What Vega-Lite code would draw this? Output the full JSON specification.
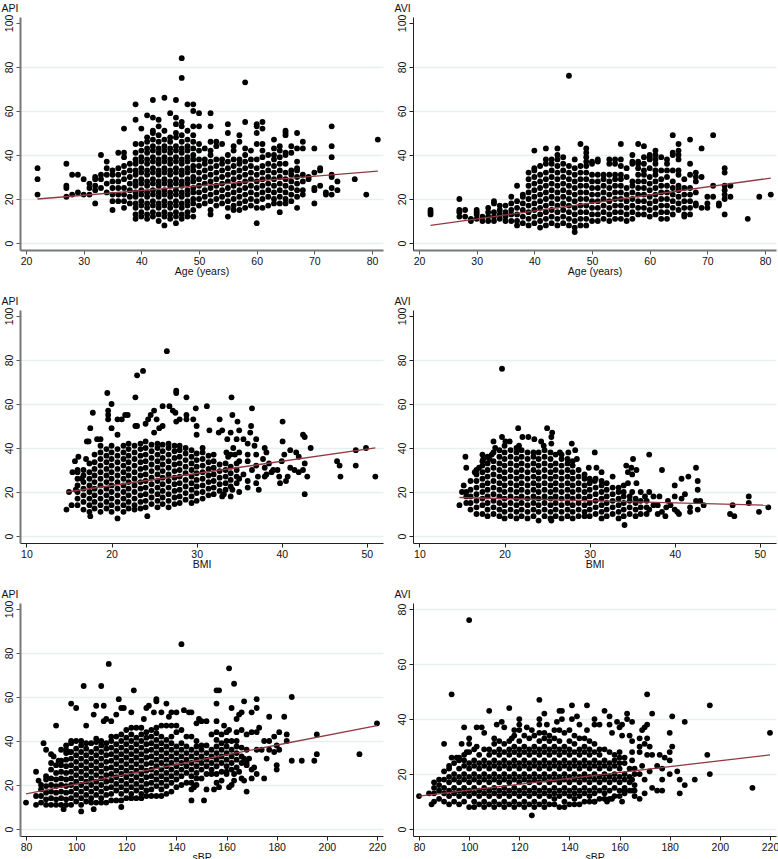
{"$schema":"https://vega.github.io/schema/vega-lite/v6.json","padding":{"left":1,"top":3,"right":0,"bottom":0},"background":"white","columns":2,"bounds":"flush","spacing":{"row":60,"column":30},
"config":{"view":{"stroke":null},"font":"Liberation Sans","axis":{"labelFont":"Liberation Sans","titleFont":"Liberation Sans","labelFontSize":10.5,"titleFontSize":10.5,"titleFontWeight":"normal","labelColor":"#111","titleColor":"#111","tickSize":4,"tickColor":"#222","domainColor":"#222","labelPadding":2,"titlePadding":0}},
"datasets":{
"apiAgeFit":[{"x":22,"y":20},{"x":81,"y":32.7}],"aviAgeFit":[{"x":22,"y":8},{"x":81,"y":29.5}],"apiBmiFit":[{"x":14.7,"y":20},{"x":51,"y":40}],"aviBmiFit":[{"x":14.7,"y":17.5},{"x":51,"y":14}],"apiSbpFit":[{"x":80,"y":16},{"x":220,"y":47}],"aviSbpFit":[{"x":80,"y":12},{"x":220,"y":27}],
"apiAge":[{"x":22,"y":22},{"x":22,"y":29},{"x":22,"y":34},{"x":27,"y":21},{"x":27,"y":25},{"x":27,"y":26},{"x":27,"y":36},{"x":28,"y":22},{"x":28,"y":31},{"x":29,"y":23},{"x":29,"y":31},{"x":30,"y":22},{"x":30,"y":29},{"x":31,"y":22},{"x":31,"y":25},{"x":31,"y":27},{"x":32,"y":18},{"x":32,"y":24},{"x":32,"y":26},{"x":32,"y":29},{"x":32,"y":30},{"x":33,"y":25},{"x":33,"y":29},{"x":33,"y":31},{"x":33,"y":40},{"x":34,"y":23},{"x":34,"y":27},{"x":34,"y":31},{"x":34,"y":34},{"x":34,"y":37},{"x":35,"y":15},{"x":35,"y":19},{"x":35,"y":22},{"x":35,"y":25},{"x":35,"y":28},{"x":35,"y":31},{"x":35,"y":33},{"x":36,"y":19},{"x":36,"y":22},{"x":36,"y":25},{"x":36,"y":28},{"x":36,"y":31},{"x":36,"y":34},{"x":36,"y":41},{"x":37,"y":16},{"x":37,"y":19},{"x":37,"y":22},{"x":37,"y":25},{"x":37,"y":29},{"x":37,"y":32},{"x":37,"y":35},{"x":37,"y":39},{"x":37,"y":41},{"x":37,"y":52},{"x":38,"y":18},{"x":38,"y":21},{"x":38,"y":24},{"x":38,"y":27},{"x":38,"y":30},{"x":38,"y":33},{"x":38,"y":36},
{"x":39,"y":11},{"x":39,"y":13},{"x":39,"y":16},{"x":39,"y":18},{"x":39,"y":21},{"x":39,"y":23},{"x":39,"y":26},{"x":39,"y":28},{"x":39,"y":31},{"x":39,"y":33},{"x":39,"y":36},{"x":39,"y":38},{"x":39,"y":41},{"x":39,"y":45},{"x":39,"y":56},{"x":39,"y":63},
{"x":40,"y":12},{"x":40,"y":14},{"x":40,"y":17},{"x":40,"y":19},{"x":40,"y":22},{"x":40,"y":24},{"x":40,"y":27},{"x":40,"y":29},{"x":40,"y":32},{"x":40,"y":34},{"x":40,"y":37},{"x":40,"y":39},{"x":40,"y":42},{"x":40,"y":45},{"x":40,"y":52},
{"x":41,"y":11},{"x":41,"y":13},{"x":41,"y":16},{"x":41,"y":18},{"x":41,"y":21},{"x":41,"y":23},{"x":41,"y":26},{"x":41,"y":28},{"x":41,"y":31},{"x":41,"y":33},{"x":41,"y":36},{"x":41,"y":38},{"x":41,"y":41},{"x":41,"y":43},{"x":41,"y":46},{"x":41,"y":48},{"x":41,"y":58},
{"x":42,"y":12},{"x":42,"y":14},{"x":42,"y":17},{"x":42,"y":19},{"x":42,"y":22},{"x":42,"y":24},{"x":42,"y":27},{"x":42,"y":29},{"x":42,"y":32},{"x":42,"y":34},{"x":42,"y":37},{"x":42,"y":39},{"x":42,"y":42},{"x":42,"y":44},{"x":42,"y":47},{"x":42,"y":50},{"x":42,"y":51},{"x":42,"y":57},{"x":42,"y":65},
{"x":43,"y":10},{"x":43,"y":13},{"x":43,"y":16},{"x":43,"y":18},{"x":43,"y":21},{"x":43,"y":23},{"x":43,"y":26},{"x":43,"y":28},{"x":43,"y":31},{"x":43,"y":33},{"x":43,"y":36},{"x":43,"y":38},{"x":43,"y":41},{"x":43,"y":43},{"x":43,"y":46},{"x":43,"y":49},{"x":43,"y":53},{"x":43,"y":56},
{"x":44,"y":8},{"x":44,"y":12},{"x":44,"y":14},{"x":44,"y":17},{"x":44,"y":19},{"x":44,"y":22},{"x":44,"y":24},{"x":44,"y":27},{"x":44,"y":29},{"x":44,"y":32},{"x":44,"y":34},{"x":44,"y":37},{"x":44,"y":39},{"x":44,"y":42},{"x":44,"y":44},{"x":44,"y":47},{"x":44,"y":51},{"x":44,"y":66},
{"x":45,"y":11},{"x":45,"y":13},{"x":45,"y":16},{"x":45,"y":18},{"x":45,"y":21},{"x":45,"y":23},{"x":45,"y":26},{"x":45,"y":28},{"x":45,"y":31},{"x":45,"y":33},{"x":45,"y":36},{"x":45,"y":38},{"x":45,"y":41},{"x":45,"y":43},{"x":45,"y":46},{"x":45,"y":48},{"x":45,"y":59},
{"x":46,"y":9},{"x":46,"y":12},{"x":46,"y":14},{"x":46,"y":17},{"x":46,"y":19},{"x":46,"y":22},{"x":46,"y":24},{"x":46,"y":27},{"x":46,"y":29},{"x":46,"y":32},{"x":46,"y":34},{"x":46,"y":37},{"x":46,"y":39},{"x":46,"y":42},{"x":46,"y":44},{"x":46,"y":48},{"x":46,"y":50},{"x":46,"y":54},{"x":46,"y":57},{"x":46,"y":65},
{"x":47,"y":11},{"x":47,"y":13},{"x":47,"y":16},{"x":47,"y":18},{"x":47,"y":21},{"x":47,"y":23},{"x":47,"y":26},{"x":47,"y":28},{"x":47,"y":31},{"x":47,"y":33},{"x":47,"y":36},{"x":47,"y":38},{"x":47,"y":41},{"x":47,"y":43},{"x":47,"y":46},{"x":47,"y":49},{"x":47,"y":53},{"x":47,"y":55},{"x":47,"y":75},{"x":47,"y":84},
{"x":48,"y":12},{"x":48,"y":14},{"x":48,"y":17},{"x":48,"y":19},{"x":48,"y":22},{"x":48,"y":24},{"x":48,"y":27},{"x":48,"y":29},{"x":48,"y":32},{"x":48,"y":34},{"x":48,"y":37},{"x":48,"y":39},{"x":48,"y":42},{"x":48,"y":44},{"x":48,"y":47},{"x":48,"y":51},{"x":48,"y":63},
{"x":49,"y":12},{"x":49,"y":15},{"x":49,"y":18},{"x":49,"y":20},{"x":49,"y":23},{"x":49,"y":25},{"x":49,"y":28},{"x":49,"y":30},{"x":49,"y":33},{"x":49,"y":35},{"x":49,"y":38},{"x":49,"y":40},{"x":49,"y":43},{"x":49,"y":46},{"x":49,"y":49},{"x":49,"y":53},{"x":49,"y":60},{"x":49,"y":63},
{"x":50,"y":17},{"x":50,"y":20},{"x":50,"y":23},{"x":50,"y":26},{"x":50,"y":29},{"x":50,"y":32},{"x":50,"y":35},{"x":50,"y":38},{"x":50,"y":42},{"x":50,"y":45},{"x":50,"y":53},{"x":50,"y":59},
{"x":51,"y":18},{"x":51,"y":21},{"x":51,"y":24},{"x":51,"y":27},{"x":51,"y":30},{"x":51,"y":33},{"x":51,"y":36},{"x":51,"y":38},{"x":51,"y":43},
{"x":52,"y":13},{"x":52,"y":15},{"x":52,"y":19},{"x":52,"y":22},{"x":52,"y":25},{"x":52,"y":28},{"x":52,"y":31},{"x":52,"y":34},{"x":52,"y":37},{"x":52,"y":40},{"x":52,"y":42},{"x":52,"y":46},{"x":52,"y":53},{"x":52,"y":59},
{"x":53,"y":17},{"x":53,"y":20},{"x":53,"y":23},{"x":53,"y":26},{"x":53,"y":29},{"x":53,"y":32},{"x":53,"y":35},{"x":53,"y":38},{"x":53,"y":44},{"x":53,"y":46},
{"x":54,"y":18},{"x":54,"y":21},{"x":54,"y":24},{"x":54,"y":27},{"x":54,"y":30},{"x":54,"y":33},{"x":54,"y":36},{"x":54,"y":38},{"x":54,"y":45},
{"x":55,"y":12},{"x":55,"y":16},{"x":55,"y":19},{"x":55,"y":22},{"x":55,"y":25},{"x":55,"y":28},{"x":55,"y":31},{"x":55,"y":34},{"x":55,"y":37},{"x":55,"y":40},{"x":55,"y":50},{"x":55,"y":54},
{"x":56,"y":15},{"x":56,"y":17},{"x":56,"y":20},{"x":56,"y":23},{"x":56,"y":26},{"x":56,"y":29},{"x":56,"y":32},{"x":56,"y":35},{"x":56,"y":38},{"x":56,"y":42},{"x":56,"y":44},
{"x":57,"y":15},{"x":57,"y":18},{"x":57,"y":21},{"x":57,"y":24},{"x":57,"y":27},{"x":57,"y":30},{"x":57,"y":33},{"x":57,"y":36},{"x":57,"y":38},{"x":57,"y":46},{"x":57,"y":49},
{"x":58,"y":16},{"x":58,"y":19},{"x":58,"y":22},{"x":58,"y":25},{"x":58,"y":28},{"x":58,"y":31},{"x":58,"y":34},{"x":58,"y":37},{"x":58,"y":40},{"x":58,"y":43},{"x":58,"y":55},{"x":58,"y":73},
{"x":59,"y":17},{"x":59,"y":20},{"x":59,"y":23},{"x":59,"y":26},{"x":59,"y":29},{"x":59,"y":32},{"x":59,"y":35},{"x":59,"y":38},{"x":59,"y":42},
{"x":60,"y":9},{"x":60,"y":16},{"x":60,"y":19},{"x":60,"y":22},{"x":60,"y":25},{"x":60,"y":28},{"x":60,"y":31},{"x":60,"y":34},{"x":60,"y":38},{"x":60,"y":45},{"x":60,"y":50},{"x":60,"y":53},{"x":60,"y":54},
{"x":61,"y":16},{"x":61,"y":20},{"x":61,"y":23},{"x":61,"y":26},{"x":61,"y":29},{"x":61,"y":32},{"x":61,"y":35},{"x":61,"y":39},{"x":61,"y":42},{"x":61,"y":45},{"x":61,"y":52},{"x":61,"y":55},
{"x":62,"y":17},{"x":62,"y":21},{"x":62,"y":24},{"x":62,"y":27},{"x":62,"y":30},{"x":62,"y":33},{"x":62,"y":36},{"x":62,"y":40},
{"x":63,"y":18},{"x":63,"y":20},{"x":63,"y":23},{"x":63,"y":26},{"x":63,"y":29},{"x":63,"y":32},{"x":63,"y":35},{"x":63,"y":38},{"x":63,"y":40},{"x":63,"y":43},{"x":63,"y":47},
{"x":64,"y":14},{"x":64,"y":18},{"x":64,"y":21},{"x":64,"y":24},{"x":64,"y":27},{"x":64,"y":30},{"x":64,"y":33},{"x":64,"y":36},{"x":64,"y":39},{"x":64,"y":42},{"x":64,"y":44},
{"x":65,"y":18},{"x":65,"y":20},{"x":65,"y":23},{"x":65,"y":26},{"x":65,"y":29},{"x":65,"y":32},{"x":65,"y":36},{"x":65,"y":40},{"x":65,"y":41},{"x":65,"y":49},{"x":65,"y":50},{"x":65,"y":51},
{"x":66,"y":19},{"x":66,"y":22},{"x":66,"y":25},{"x":66,"y":28},{"x":66,"y":31},{"x":66,"y":33},{"x":66,"y":41},{"x":66,"y":44},
{"x":67,"y":16},{"x":67,"y":21},{"x":67,"y":24},{"x":67,"y":27},{"x":67,"y":30},{"x":67,"y":33},{"x":67,"y":34},{"x":67,"y":37},{"x":67,"y":43},{"x":67,"y":50},
{"x":68,"y":22},{"x":68,"y":24},{"x":68,"y":28},{"x":68,"y":31},{"x":68,"y":43},{"x":68,"y":46},{"x":69,"y":29},{"x":69,"y":30},{"x":70,"y":18},{"x":70,"y":24},{"x":70,"y":25},{"x":70,"y":32},{"x":70,"y":43},{"x":71,"y":26},{"x":71,"y":33},{"x":71,"y":34},{"x":72,"y":22},{"x":72,"y":23},{"x":73,"y":22},{"x":73,"y":25},{"x":73,"y":30},{"x":73,"y":31},{"x":73,"y":39},{"x":73,"y":44},{"x":73,"y":53},{"x":74,"y":24},{"x":74,"y":28},{"x":77,"y":29},{"x":79,"y":22},{"x":81,"y":47}],
"aviAge":[{"x":22,"y":13},{"x":22,"y":14},{"x":22,"y":15},{"x":27,"y":12},{"x":27,"y":14},{"x":27,"y":15},{"x":27,"y":20},{"x":28,"y":12},{"x":28,"y":15},{"x":29,"y":10},{"x":29,"y":11},{"x":30,"y":11},{"x":30,"y":13},{"x":30,"y":14},{"x":30,"y":15},{"x":31,"y":10},{"x":31,"y":12},{"x":32,"y":10},{"x":32,"y":12},{"x":32,"y":14},{"x":32,"y":16},{"x":33,"y":10},{"x":33,"y":12},{"x":33,"y":14},{"x":33,"y":18},{"x":33,"y":19},{"x":34,"y":11},{"x":34,"y":13},{"x":34,"y":15},{"x":34,"y":17},{"x":35,"y":10},{"x":35,"y":12},{"x":35,"y":14},{"x":35,"y":17},{"x":36,"y":10},{"x":36,"y":13},{"x":36,"y":15},{"x":36,"y":18},{"x":36,"y":21},{"x":37,"y":8},{"x":37,"y":10},{"x":37,"y":13},{"x":37,"y":16},{"x":37,"y":19},{"x":37,"y":26},{"x":38,"y":9},{"x":38,"y":12},{"x":38,"y":15},{"x":38,"y":18},{"x":38,"y":21},{"x":38,"y":22},
{"x":39,"y":8},{"x":39,"y":11},{"x":39,"y":14},{"x":39,"y":17},{"x":39,"y":20},{"x":39,"y":23},{"x":39,"y":26},{"x":39,"y":29},{"x":39,"y":32},
{"x":40,"y":9},{"x":40,"y":12},{"x":40,"y":15},{"x":40,"y":18},{"x":40,"y":21},{"x":40,"y":24},{"x":40,"y":27},{"x":40,"y":30},{"x":40,"y":33},{"x":40,"y":34},{"x":40,"y":42},
{"x":41,"y":7},{"x":41,"y":10},{"x":41,"y":13},{"x":41,"y":16},{"x":41,"y":19},{"x":41,"y":22},{"x":41,"y":25},{"x":41,"y":28},{"x":41,"y":31},{"x":41,"y":35},
{"x":42,"y":8},{"x":42,"y":11},{"x":42,"y":14},{"x":42,"y":17},{"x":42,"y":20},{"x":42,"y":23},{"x":42,"y":26},{"x":42,"y":29},{"x":42,"y":32},{"x":42,"y":36},{"x":42,"y":38},{"x":42,"y":43},
{"x":43,"y":9},{"x":43,"y":12},{"x":43,"y":15},{"x":43,"y":18},{"x":43,"y":21},{"x":43,"y":24},{"x":43,"y":27},{"x":43,"y":30},{"x":43,"y":33},{"x":43,"y":36},{"x":43,"y":38},
{"x":44,"y":8},{"x":44,"y":11},{"x":44,"y":14},{"x":44,"y":17},{"x":44,"y":20},{"x":44,"y":23},{"x":44,"y":26},{"x":44,"y":29},{"x":44,"y":32},{"x":44,"y":35},{"x":44,"y":38},{"x":44,"y":40},{"x":44,"y":43},
{"x":45,"y":9},{"x":45,"y":12},{"x":45,"y":15},{"x":45,"y":18},{"x":45,"y":21},{"x":45,"y":24},{"x":45,"y":27},{"x":45,"y":30},{"x":45,"y":33},{"x":45,"y":36},{"x":45,"y":39},
{"x":46,"y":8},{"x":46,"y":11},{"x":46,"y":14},{"x":46,"y":17},{"x":46,"y":20},{"x":46,"y":23},{"x":46,"y":26},{"x":46,"y":29},{"x":46,"y":32},{"x":46,"y":35},{"x":46,"y":76},
{"x":47,"y":5},{"x":47,"y":7},{"x":47,"y":10},{"x":47,"y":13},{"x":47,"y":16},{"x":47,"y":19},{"x":47,"y":22},{"x":47,"y":25},{"x":47,"y":28},{"x":47,"y":31},{"x":47,"y":34},{"x":47,"y":38},
{"x":48,"y":8},{"x":48,"y":11},{"x":48,"y":14},{"x":48,"y":17},{"x":48,"y":20},{"x":48,"y":23},{"x":48,"y":26},{"x":48,"y":29},{"x":48,"y":32},{"x":48,"y":35},{"x":48,"y":45},
{"x":49,"y":8},{"x":49,"y":11},{"x":49,"y":14},{"x":49,"y":17},{"x":49,"y":20},{"x":49,"y":23},{"x":49,"y":26},{"x":49,"y":29},{"x":49,"y":32},{"x":49,"y":35},{"x":49,"y":37},{"x":49,"y":39},{"x":49,"y":41},{"x":49,"y":43},
{"x":50,"y":10},{"x":50,"y":13},{"x":50,"y":16},{"x":50,"y":19},{"x":50,"y":22},{"x":50,"y":25},{"x":50,"y":28},{"x":50,"y":31},{"x":50,"y":36},{"x":50,"y":37},
{"x":51,"y":10},{"x":51,"y":13},{"x":51,"y":16},{"x":51,"y":19},{"x":51,"y":22},{"x":51,"y":25},{"x":51,"y":28},{"x":51,"y":31},{"x":51,"y":37},{"x":51,"y":38},
{"x":52,"y":11},{"x":52,"y":14},{"x":52,"y":17},{"x":52,"y":20},{"x":52,"y":23},{"x":52,"y":26},{"x":52,"y":29},{"x":52,"y":31},
{"x":53,"y":10},{"x":53,"y":13},{"x":53,"y":16},{"x":53,"y":19},{"x":53,"y":22},{"x":53,"y":25},{"x":53,"y":28},{"x":53,"y":31},{"x":53,"y":36},{"x":53,"y":38},
{"x":54,"y":11},{"x":54,"y":14},{"x":54,"y":17},{"x":54,"y":20},{"x":54,"y":23},{"x":54,"y":26},{"x":54,"y":29},{"x":54,"y":31},{"x":54,"y":36},{"x":54,"y":38},
{"x":55,"y":11},{"x":55,"y":14},{"x":55,"y":17},{"x":55,"y":20},{"x":55,"y":23},{"x":55,"y":26},{"x":55,"y":29},{"x":55,"y":31},{"x":55,"y":35},{"x":55,"y":38},{"x":55,"y":45},
{"x":56,"y":10},{"x":56,"y":13},{"x":56,"y":16},{"x":56,"y":19},{"x":56,"y":22},{"x":56,"y":25},{"x":56,"y":30},{"x":56,"y":34},
{"x":57,"y":11},{"x":57,"y":14},{"x":57,"y":17},{"x":57,"y":20},{"x":57,"y":23},{"x":57,"y":26},{"x":57,"y":28},{"x":57,"y":36},{"x":57,"y":37},{"x":57,"y":40},
{"x":58,"y":13},{"x":58,"y":16},{"x":58,"y":19},{"x":58,"y":22},{"x":58,"y":25},{"x":58,"y":28},{"x":58,"y":31},{"x":58,"y":34},{"x":58,"y":36},{"x":58,"y":37},{"x":58,"y":45},
{"x":59,"y":13},{"x":59,"y":16},{"x":59,"y":19},{"x":59,"y":22},{"x":59,"y":25},{"x":59,"y":28},{"x":59,"y":31},{"x":59,"y":33},{"x":59,"y":36},{"x":59,"y":39},{"x":59,"y":44},
{"x":60,"y":12},{"x":60,"y":15},{"x":60,"y":18},{"x":60,"y":21},{"x":60,"y":24},{"x":60,"y":27},{"x":60,"y":30},{"x":60,"y":34},{"x":60,"y":38},{"x":60,"y":39},{"x":60,"y":40},
{"x":61,"y":13},{"x":61,"y":16},{"x":61,"y":19},{"x":61,"y":22},{"x":61,"y":25},{"x":61,"y":28},{"x":61,"y":31},{"x":61,"y":33},{"x":61,"y":36},{"x":61,"y":38},{"x":61,"y":40},{"x":61,"y":42},
{"x":62,"y":11},{"x":62,"y":14},{"x":62,"y":17},{"x":62,"y":20},{"x":62,"y":23},{"x":62,"y":26},{"x":62,"y":29},{"x":62,"y":33},{"x":62,"y":39},
{"x":63,"y":11},{"x":63,"y":14},{"x":63,"y":17},{"x":63,"y":20},{"x":63,"y":23},{"x":63,"y":26},{"x":63,"y":30},{"x":63,"y":33},{"x":63,"y":36},{"x":63,"y":38},
{"x":64,"y":13},{"x":64,"y":16},{"x":64,"y":19},{"x":64,"y":22},{"x":64,"y":25},{"x":64,"y":28},{"x":64,"y":33},{"x":64,"y":40},{"x":64,"y":41},{"x":64,"y":49},
{"x":65,"y":15},{"x":65,"y":18},{"x":65,"y":21},{"x":65,"y":24},{"x":65,"y":26},{"x":65,"y":31},{"x":65,"y":33},{"x":65,"y":38},{"x":65,"y":40},{"x":65,"y":42},{"x":65,"y":45},
{"x":66,"y":12},{"x":66,"y":13},{"x":66,"y":16},{"x":66,"y":19},{"x":66,"y":22},{"x":66,"y":25},{"x":66,"y":29},
{"x":67,"y":13},{"x":67,"y":16},{"x":67,"y":19},{"x":67,"y":22},{"x":67,"y":25},{"x":67,"y":31},{"x":67,"y":36},{"x":67,"y":47},
{"x":68,"y":17},{"x":68,"y":18},{"x":68,"y":23},{"x":68,"y":28},{"x":68,"y":30},{"x":68,"y":32},{"x":69,"y":16},{"x":69,"y":30},{"x":69,"y":43},{"x":70,"y":16},{"x":70,"y":18},{"x":70,"y":21},{"x":71,"y":21},{"x":71,"y":26},{"x":71,"y":49},{"x":72,"y":17},{"x":72,"y":18},{"x":73,"y":13},{"x":73,"y":20},{"x":73,"y":22},{"x":73,"y":24},{"x":73,"y":26},{"x":73,"y":32},{"x":73,"y":34},{"x":74,"y":21},{"x":74,"y":26},{"x":77,"y":11},{"x":79,"y":21},{"x":81,"y":22}],
"apiBmi":[{"x":16,"y":14},{"x":16,"y":17},{"x":16,"y":20},{"x":16,"y":23},{"x":16,"y":26},{"x":16,"y":29},{"x":16.7,"y":12},{"x":16.7,"y":15.5},{"x":16.7,"y":18.5},{"x":16.7,"y":21.5},{"x":16.7,"y":24.5},{"x":16.7,"y":27.5},{"x":16.7,"y":30},{"x":17.4,"y":11},{"x":17.4,"y":14},{"x":17.4,"y":17},{"x":17.4,"y":20},{"x":17.4,"y":23},{"x":17.4,"y":26},{"x":17.4,"y":29},{"x":17.4,"y":33},{"x":18,"y":12.5},{"x":18,"y":15.5},{"x":18,"y":18.5},{"x":18,"y":21.5},{"x":18,"y":24.5},{"x":18,"y":27.5},{"x":18,"y":30.5},{"x":18,"y":33.5},{"x":18,"y":37},
{"x":18.7,"y":11},{"x":18.7,"y":14},{"x":18.7,"y":17},{"x":18.7,"y":20},{"x":18.7,"y":23},{"x":18.7,"y":26},{"x":18.7,"y":29},{"x":18.7,"y":32},{"x":18.7,"y":35},{"x":18.7,"y":38},{"x":18.7,"y":41},{"x":19.4,"y":12.5},{"x":19.4,"y":15.5},{"x":19.4,"y":18.5},{"x":19.4,"y":21.5},{"x":19.4,"y":24.5},{"x":19.4,"y":27.5},{"x":19.4,"y":30.5},{"x":19.4,"y":33.5},{"x":19.4,"y":36.5},{"x":19.4,"y":39.5},{"x":20,"y":11},{"x":20,"y":14},{"x":20,"y":17},{"x":20,"y":20},{"x":20,"y":23},{"x":20,"y":26},{"x":20,"y":29},{"x":20,"y":32},{"x":20,"y":35},{"x":20,"y":38},{"x":20,"y":41},
{"x":20.7,"y":12.5},{"x":20.7,"y":15.5},{"x":20.7,"y":18.5},{"x":20.7,"y":21.5},{"x":20.7,"y":24.5},{"x":20.7,"y":27.5},{"x":20.7,"y":30.5},{"x":20.7,"y":33.5},{"x":20.7,"y":36.5},{"x":20.7,"y":39.5},{"x":21.4,"y":11},{"x":21.4,"y":14},{"x":21.4,"y":17},{"x":21.4,"y":20},{"x":21.4,"y":23},{"x":21.4,"y":26},{"x":21.4,"y":29},{"x":21.4,"y":32},{"x":21.4,"y":35},{"x":21.4,"y":38},{"x":21.4,"y":41},{"x":22,"y":12.5},{"x":22,"y":15.5},{"x":22,"y":18.5},{"x":22,"y":21.5},{"x":22,"y":24.5},{"x":22,"y":27.5},{"x":22,"y":30.5},{"x":22,"y":33.5},{"x":22,"y":36.5},{"x":22,"y":39.5},{"x":22,"y":42},
{"x":22.7,"y":12},{"x":22.7,"y":14},{"x":22.7,"y":17},{"x":22.7,"y":20},{"x":22.7,"y":23},{"x":22.7,"y":26},{"x":22.7,"y":29},{"x":22.7,"y":32},{"x":22.7,"y":35},{"x":22.7,"y":38},{"x":22.7,"y":41},{"x":23.4,"y":12.5},{"x":23.4,"y":15.5},{"x":23.4,"y":18.5},{"x":23.4,"y":21.5},{"x":23.4,"y":24.5},{"x":23.4,"y":27.5},{"x":23.4,"y":30.5},{"x":23.4,"y":33.5},{"x":23.4,"y":36.5},{"x":23.4,"y":39.5},{"x":23.4,"y":42},{"x":24,"y":13},{"x":24,"y":16},{"x":24,"y":19},{"x":24,"y":22},{"x":24,"y":25},{"x":24,"y":28},{"x":24,"y":31},{"x":24,"y":34},{"x":24,"y":37},{"x":24,"y":40},{"x":24,"y":43},
{"x":24.7,"y":14.5},{"x":24.7,"y":17.5},{"x":24.7,"y":20.5},{"x":24.7,"y":23.5},{"x":24.7,"y":26.5},{"x":24.7,"y":29.5},{"x":24.7,"y":32.5},{"x":24.7,"y":35.5},{"x":24.7,"y":38.5},{"x":24.7,"y":41.5},{"x":25.4,"y":13},{"x":25.4,"y":16},{"x":25.4,"y":19},{"x":25.4,"y":22},{"x":25.4,"y":25},{"x":25.4,"y":28},{"x":25.4,"y":31},{"x":25.4,"y":34},{"x":25.4,"y":37},{"x":25.4,"y":40},{"x":25.4,"y":42},{"x":26,"y":14.5},{"x":26,"y":17.5},{"x":26,"y":20.5},{"x":26,"y":23.5},{"x":26,"y":26.5},{"x":26,"y":29.5},{"x":26,"y":32.5},{"x":26,"y":35.5},{"x":26,"y":38.5},{"x":26,"y":41.5},
{"x":26.7,"y":13},{"x":26.7,"y":16},{"x":26.7,"y":19},{"x":26.7,"y":22},{"x":26.7,"y":25},{"x":26.7,"y":28},{"x":26.7,"y":31},{"x":26.7,"y":34},{"x":26.7,"y":37},{"x":26.7,"y":40},{"x":26.7,"y":42},{"x":27.4,"y":14.5},{"x":27.4,"y":17.5},{"x":27.4,"y":20.5},{"x":27.4,"y":23.5},{"x":27.4,"y":26.5},{"x":27.4,"y":29.5},{"x":27.4,"y":32.5},{"x":27.4,"y":35.5},{"x":27.4,"y":38.5},{"x":27.4,"y":41},{"x":28,"y":15},{"x":28,"y":18},{"x":28,"y":21},{"x":28,"y":24},{"x":28,"y":27},{"x":28,"y":30},{"x":28,"y":33},{"x":28,"y":36},{"x":28,"y":39},{"x":28,"y":41},
{"x":28.7,"y":16.5},{"x":28.7,"y":19.5},{"x":28.7,"y":22.5},{"x":28.7,"y":25.5},{"x":28.7,"y":28.5},{"x":28.7,"y":31.5},{"x":28.7,"y":34.5},{"x":28.7,"y":37.5},{"x":28.7,"y":40},{"x":29.4,"y":15},{"x":29.4,"y":18},{"x":29.4,"y":21},{"x":29.4,"y":24},{"x":29.4,"y":27},{"x":29.4,"y":30},{"x":29.4,"y":33},{"x":29.4,"y":36},{"x":29.4,"y":39},{"x":30,"y":16},{"x":30,"y":19.5},{"x":30,"y":22.5},{"x":30,"y":25.5},{"x":30,"y":28.5},{"x":30,"y":31.5},{"x":30,"y":34.5},{"x":30,"y":37.5},{"x":30.7,"y":17},{"x":30.7,"y":20},{"x":30.7,"y":23},{"x":30.7,"y":26},{"x":30.7,"y":29},{"x":30.7,"y":32},{"x":30.7,"y":35},{"x":30.7,"y":38},{"x":30.7,"y":40},
{"x":31.4,"y":18.5},{"x":31.4,"y":21.5},{"x":31.4,"y":24.5},{"x":31.4,"y":27.5},{"x":31.4,"y":30.5},{"x":31.4,"y":33.5},{"x":31.4,"y":36.5},{"x":32,"y":19},{"x":32,"y":22},{"x":32,"y":25},{"x":32,"y":28},{"x":32,"y":31},{"x":32,"y":34},{"x":32,"y":37},{"x":32.7,"y":20.5},{"x":32.7,"y":23.5},{"x":32.7,"y":26.5},{"x":32.7,"y":29.5},{"x":32.7,"y":32.5},{"x":33.4,"y":21},{"x":33.4,"y":24},{"x":33.4,"y":27},{"x":33.4,"y":30},{"x":33.4,"y":33},{"x":34,"y":22.5},{"x":34,"y":25.5},{"x":34,"y":28.5},{"x":34,"y":31.5},{"x":34.7,"y":24},{"x":34.7,"y":27},{"x":34.7,"y":30},{"x":34.7,"y":33},
{"x":14.7,"y":12},{"x":15,"y":20},{"x":15.3,"y":14},{"x":15.4,"y":29},{"x":15.7,"y":34},{"x":15.8,"y":21},{"x":16.1,"y":36},{"x":16,"y":30},{"x":16.5,"y":26},{"x":17,"y":35},{"x":17.1,"y":43},{"x":17.3,"y":43},{"x":17.5,"y":49},{"x":17.5,"y":9},{"x":17.8,"y":56},{"x":18.3,"y":44},{"x":18.7,"y":44},{"x":19.5,"y":65},{"x":19.6,"y":57},{"x":19.6,"y":55},{"x":19.6,"y":53},{"x":20,"y":60},{"x":20,"y":49},{"x":20.7,"y":8},{"x":20.7,"y":46},{"x":20.7,"y":53},{"x":21.2,"y":53},{"x":21.6,"y":55},{"x":21.9,"y":55},{"x":22.8,"y":63},{"x":23,"y":73},{"x":23.7,"y":75},{"x":22.8,"y":50},{"x":23,"y":50},{"x":24,"y":51},{"x":24.2,"y":9},{"x":24.3,"y":53},{"x":24.6,"y":55},{"x":25,"y":57},{"x":25,"y":47},{"x":25.3,"y":53},{"x":25.6,"y":49},{"x":26,"y":50},{"x":26,"y":59},{"x":26.5,"y":84},{"x":26.8,"y":59},{"x":27.2,"y":57},{"x":27.5,"y":56},{"x":27.6,"y":66},{"x":27.6,"y":65},{"x":27.6,"y":52},{"x":28,"y":53},{"x":28.8,"y":63},{"x":28.8,"y":55},{"x":28.8,"y":53},{"x":29.6,"y":53},{"x":30,"y":50},{"x":29.9,"y":58},{"x":30,"y":46},{"x":31.2,"y":59},{"x":31.5,"y":48},{"x":32.7,"y":53},{"x":32.6,"y":47},{"x":33,"y":48},{"x":33.6,"y":44},{"x":34,"y":47},{"x":34.1,"y":63},{"x":34.2,"y":55},{"x":34.8,"y":52},{"x":35,"y":48},{"x":34.7,"y":44},{"x":35.5,"y":44},{"x":36,"y":42},{"x":36.4,"y":50},{"x":36.5,"y":58},{"x":36.3,"y":47},{"x":37,"y":44},{"x":36.8,"y":41},{"x":36,"y":37},{"x":35,"y":38},{"x":34.5,"y":37},{"x":34,"y":37},{"x":33.7,"y":36},{"x":34.3,"y":40},{"x":33.5,"y":38},{"x":35,"y":34},{"x":36,"y":34},{"x":37,"y":37},{"x":38,"y":40},{"x":38.2,"y":38},{"x":37.8,"y":35},{"x":38.5,"y":33},{"x":38,"y":31},{"x":37.2,"y":27},{"x":38,"y":27},{"x":38.2,"y":28},{"x":38.8,"y":29},{"x":39,"y":30},{"x":39.5,"y":30},{"x":39.7,"y":27},{"x":39.8,"y":24},{"x":40,"y":34},{"x":40.1,"y":43},{"x":40.1,"y":52},{"x":40.3,"y":37},{"x":40.5,"y":25},{"x":40.7,"y":27},{"x":41,"y":39},{"x":41,"y":31},{"x":41.5,"y":30},{"x":41.7,"y":38},{"x":42,"y":36},{"x":42,"y":29},{"x":42.5,"y":30},{"x":42.5,"y":46},{"x":42.7,"y":45},{"x":42.7,"y":33},{"x":42.7,"y":19},{"x":43,"y":27},{"x":43.4,"y":40},{"x":46.5,"y":34},{"x":46.8,"y":32},{"x":46.9,"y":27},{"x":48.7,"y":39},{"x":48.7,"y":32},{"x":49.9,"y":40},{"x":51,"y":27},{"x":35,"y":20},{"x":35,"y":26},{"x":36,"y":25},{"x":36,"y":22},{"x":37,"y":24},{"x":37.3,"y":21},{"x":34,"y":18},{"x":34.2,"y":21},{"x":33,"y":18},{"x":33.2,"y":19},{"x":35.5,"y":28},{"x":36.5,"y":30},{"x":37,"y":32}],
"aviBmi":[{"x":15.5,"y":15},{"x":15.5,"y":18},{"x":15.5,"y":20},{"x":16,"y":12},{"x":16,"y":15},{"x":16,"y":18},{"x":16,"y":21},{"x":16,"y":25},{"x":16.7,"y":10},{"x":16.7,"y":13},{"x":16.7,"y":16},{"x":16.7,"y":19},{"x":16.7,"y":22},{"x":16.7,"y":25},{"x":16.7,"y":28},{"x":16.7,"y":30},{"x":17.4,"y":10},{"x":17.4,"y":14},{"x":17.4,"y":17},{"x":17.4,"y":20},{"x":17.4,"y":23},{"x":17.4,"y":26},{"x":17.4,"y":29},{"x":17.4,"y":32},{"x":17.4,"y":34},{"x":18,"y":9},{"x":18,"y":12},{"x":18,"y":15},{"x":18,"y":18},{"x":18,"y":21},{"x":18,"y":24},{"x":18,"y":27},{"x":18,"y":30},{"x":18,"y":33},{"x":18,"y":36},
{"x":18.7,"y":10},{"x":18.7,"y":13},{"x":18.7,"y":16},{"x":18.7,"y":19},{"x":18.7,"y":22},{"x":18.7,"y":25},{"x":18.7,"y":28},{"x":18.7,"y":31},{"x":18.7,"y":34},{"x":18.7,"y":38},{"x":19.4,"y":9},{"x":19.4,"y":12},{"x":19.4,"y":15},{"x":19.4,"y":18},{"x":19.4,"y":21},{"x":19.4,"y":24},{"x":19.4,"y":27},{"x":19.4,"y":30},{"x":19.4,"y":33},{"x":19.4,"y":36},{"x":19.4,"y":39},{"x":20,"y":8},{"x":20,"y":11},{"x":20,"y":14},{"x":20,"y":17},{"x":20,"y":20},{"x":20,"y":23},{"x":20,"y":26},{"x":20,"y":29},{"x":20,"y":32},{"x":20,"y":35},{"x":20,"y":38},{"x":20,"y":41},
{"x":20.7,"y":9},{"x":20.7,"y":12},{"x":20.7,"y":15},{"x":20.7,"y":18},{"x":20.7,"y":21},{"x":20.7,"y":24},{"x":20.7,"y":27},{"x":20.7,"y":30},{"x":20.7,"y":33},{"x":20.7,"y":36},{"x":20.7,"y":39},{"x":21.4,"y":8},{"x":21.4,"y":11},{"x":21.4,"y":14},{"x":21.4,"y":17},{"x":21.4,"y":20},{"x":21.4,"y":23},{"x":21.4,"y":26},{"x":21.4,"y":29},{"x":21.4,"y":32},{"x":21.4,"y":35},{"x":21.4,"y":38},{"x":21.4,"y":40},{"x":22,"y":9},{"x":22,"y":12},{"x":22,"y":15},{"x":22,"y":18},{"x":22,"y":21},{"x":22,"y":24},{"x":22,"y":27},{"x":22,"y":30},{"x":22,"y":33},{"x":22,"y":36},{"x":22,"y":39},
{"x":22.7,"y":8},{"x":22.7,"y":11},{"x":22.7,"y":14},{"x":22.7,"y":17},{"x":22.7,"y":20},{"x":22.7,"y":23},{"x":22.7,"y":26},{"x":22.7,"y":29},{"x":22.7,"y":32},{"x":22.7,"y":35},{"x":22.7,"y":38},{"x":23.4,"y":9},{"x":23.4,"y":12},{"x":23.4,"y":15},{"x":23.4,"y":18},{"x":23.4,"y":21},{"x":23.4,"y":24},{"x":23.4,"y":27},{"x":23.4,"y":30},{"x":23.4,"y":33},{"x":23.4,"y":36},{"x":23.4,"y":38},{"x":24,"y":7},{"x":24,"y":11},{"x":24,"y":14},{"x":24,"y":17},{"x":24,"y":20},{"x":24,"y":23},{"x":24,"y":26},{"x":24,"y":29},{"x":24,"y":32},{"x":24,"y":35},{"x":24,"y":38},
{"x":24.7,"y":9},{"x":24.7,"y":12},{"x":24.7,"y":15},{"x":24.7,"y":18},{"x":24.7,"y":21},{"x":24.7,"y":24},{"x":24.7,"y":27},{"x":24.7,"y":30},{"x":24.7,"y":33},{"x":24.7,"y":36},{"x":24.7,"y":39},{"x":25.4,"y":8},{"x":25.4,"y":11},{"x":25.4,"y":14},{"x":25.4,"y":17},{"x":25.4,"y":20},{"x":25.4,"y":23},{"x":25.4,"y":26},{"x":25.4,"y":29},{"x":25.4,"y":32},{"x":25.4,"y":35},{"x":25.4,"y":38},{"x":26,"y":9},{"x":26,"y":12},{"x":26,"y":15},{"x":26,"y":18},{"x":26,"y":21},{"x":26,"y":24},{"x":26,"y":27},{"x":26,"y":30},{"x":26,"y":33},{"x":26,"y":37},
{"x":26.7,"y":8},{"x":26.7,"y":11},{"x":26.7,"y":14},{"x":26.7,"y":17},{"x":26.7,"y":20},{"x":26.7,"y":23},{"x":26.7,"y":26},{"x":26.7,"y":29},{"x":26.7,"y":32},{"x":26.7,"y":35},{"x":26.7,"y":37},{"x":27.4,"y":9},{"x":27.4,"y":12},{"x":27.4,"y":15},{"x":27.4,"y":18},{"x":27.4,"y":21},{"x":27.4,"y":24},{"x":27.4,"y":27},{"x":27.4,"y":30},{"x":27.4,"y":33},{"x":27.4,"y":35},{"x":28,"y":8},{"x":28,"y":11},{"x":28,"y":14},{"x":28,"y":17},{"x":28,"y":20},{"x":28,"y":23},{"x":28,"y":26},{"x":28,"y":29},{"x":28,"y":32},{"x":28,"y":34},
{"x":28.7,"y":9},{"x":28.7,"y":12},{"x":28.7,"y":15},{"x":28.7,"y":18},{"x":28.7,"y":21},{"x":28.7,"y":24},{"x":28.7,"y":27},{"x":28.7,"y":30},{"x":29.4,"y":9},{"x":29.4,"y":11},{"x":29.4,"y":14},{"x":29.4,"y":17},{"x":29.4,"y":20},{"x":29.4,"y":23},{"x":29.4,"y":26},{"x":29.4,"y":28},{"x":30,"y":9},{"x":30,"y":12},{"x":30,"y":15},{"x":30,"y":18},{"x":30,"y":21},{"x":30,"y":24},{"x":30,"y":26},{"x":30.7,"y":10},{"x":30.7,"y":13},{"x":30.7,"y":16},{"x":30.7,"y":19},{"x":30.7,"y":22},{"x":30.7,"y":26},{"x":31.4,"y":8},{"x":31.4,"y":11},{"x":31.4,"y":14},{"x":31.4,"y":17},{"x":31.4,"y":20},{"x":31.4,"y":23},{"x":31.4,"y":25},
{"x":32,"y":9},{"x":32,"y":12},{"x":32,"y":15},{"x":32,"y":18},{"x":32,"y":21},{"x":32,"y":24},{"x":32.7,"y":10},{"x":32.7,"y":13},{"x":32.7,"y":16},{"x":32.7,"y":19},{"x":32.7,"y":22},{"x":33.4,"y":8},{"x":33.4,"y":11},{"x":33.4,"y":14},{"x":33.4,"y":17},{"x":33.4,"y":20},{"x":33.4,"y":22},{"x":34,"y":9},{"x":34,"y":12},{"x":34,"y":15},{"x":34,"y":18},{"x":34,"y":20},{"x":34.7,"y":10},{"x":34.7,"y":13},{"x":34.7,"y":16},{"x":34.7,"y":18},{"x":35.4,"y":9},{"x":35.4,"y":12},{"x":35.4,"y":15},{"x":35.4,"y":17},{"x":36,"y":10},{"x":36,"y":13},{"x":36,"y":16},{"x":36.7,"y":10},{"x":36.7,"y":13},{"x":36.7,"y":16},
{"x":14.7,"y":14},{"x":15,"y":20},{"x":15.2,"y":23},{"x":15.4,"y":36},{"x":15.5,"y":31},{"x":16.5,"y":29},{"x":17,"y":31},{"x":17.4,"y":37},{"x":17.5,"y":35},{"x":18.2,"y":35},{"x":18.5,"y":37},{"x":18.7,"y":43},{"x":18.9,"y":40},{"x":19.7,"y":45},{"x":19.7,"y":76},{"x":20.1,"y":43},{"x":20.6,"y":43},{"x":21.6,"y":49},{"x":21.7,"y":41},{"x":22.1,"y":45},{"x":22.8,"y":45},{"x":23.5,"y":44},{"x":24.3,"y":43},{"x":24.6,"y":41},{"x":25,"y":49},{"x":25.5,"y":45},{"x":25.6,"y":47},{"x":25.5,"y":42},{"x":25.5,"y":7},{"x":26.5,"y":38},{"x":27.5,"y":38},{"x":27.9,"y":42},{"x":28.3,"y":39},{"x":28.5,"y":35},{"x":29.9,"y":31},{"x":30.6,"y":38},{"x":30.8,"y":31},{"x":31.4,"y":29},{"x":30.6,"y":25},{"x":32.7,"y":27},{"x":34.3,"y":32},{"x":34.5,"y":29},{"x":34.9,"y":31},{"x":35,"y":28},{"x":35.1,"y":35},{"x":35.5,"y":30},{"x":35.5,"y":24},{"x":34.5,"y":24},{"x":34,"y":23},{"x":35,"y":20},{"x":36,"y":20},{"x":36.5,"y":18},{"x":37,"y":37},{"x":37,"y":20},{"x":37.5,"y":18},{"x":38.2,"y":18},{"x":38.5,"y":30},{"x":38,"y":10},{"x":38.5,"y":11},{"x":38.9,"y":9},{"x":39.2,"y":16},{"x":39.5,"y":14},{"x":40,"y":23},{"x":40,"y":18},{"x":40,"y":12},{"x":40.3,"y":11},{"x":40.5,"y":10},{"x":40.8,"y":26},{"x":40.8,"y":17},{"x":41.2,"y":19},{"x":41.6,"y":27},{"x":41.8,"y":11},{"x":41.8,"y":13},{"x":42.5,"y":31},{"x":42.5,"y":16},{"x":42.7,"y":25},{"x":42.7,"y":21},{"x":42.7,"y":12},{"x":43,"y":16},{"x":43.4,"y":14},{"x":46.5,"y":10},{"x":46.8,"y":14},{"x":47,"y":9},{"x":48.7,"y":18},{"x":48.7,"y":15},{"x":49.9,"y":11},{"x":51,"y":13},{"x":34.1,"y":5},{"x":37,"y":12},{"x":38,"y":14},{"x":39,"y":13},{"x":37.5,"y":14}],
"apiSbp":[{"x":86,"y":12},{"x":86,"y":15},{"x":86,"y":18},{"x":86,"y":20},{"x":88,"y":11},{"x":88,"y":13.5},{"x":88,"y":16.5},{"x":88,"y":19.5},{"x":88,"y":22.5},{"x":88,"y":24},{"x":90,"y":11},{"x":90,"y":14},{"x":90,"y":17},{"x":90,"y":20},{"x":90,"y":23},{"x":90,"y":27},{"x":92,"y":11},{"x":92,"y":13.5},{"x":92,"y":16.5},{"x":92,"y":19.5},{"x":92,"y":22.5},{"x":92,"y":25.5},{"x":92,"y":29},{"x":94,"y":11},{"x":94,"y":14},{"x":94,"y":17},{"x":94,"y":20},{"x":94,"y":23},{"x":94,"y":26},{"x":94,"y":29},{"x":94,"y":31},{"x":96,"y":11},{"x":96,"y":13.5},{"x":96,"y":16.5},{"x":96,"y":19.5},{"x":96,"y":22.5},{"x":96,"y":25.5},{"x":96,"y":28.5},{"x":96,"y":31.5},{"x":96,"y":34.5},{"x":96,"y":36},
{"x":98,"y":11},{"x":98,"y":14},{"x":98,"y":17},{"x":98,"y":20},{"x":98,"y":23},{"x":98,"y":26},{"x":98,"y":29},{"x":98,"y":32},{"x":98,"y":35},{"x":98,"y":39},{"x":100,"y":12.5},{"x":100,"y":15.5},{"x":100,"y":18.5},{"x":100,"y":21.5},{"x":100,"y":24.5},{"x":100,"y":27.5},{"x":100,"y":30.5},{"x":100,"y":33.5},{"x":100,"y":36.5},{"x":100,"y":40},{"x":102,"y":11},{"x":102,"y":14},{"x":102,"y":17},{"x":102,"y":20},{"x":102,"y":23},{"x":102,"y":26},{"x":102,"y":29},{"x":102,"y":32},{"x":102,"y":35},{"x":102,"y":38},{"x":102,"y":40},{"x":104,"y":12.5},{"x":104,"y":15.5},{"x":104,"y":18.5},{"x":104,"y":21.5},{"x":104,"y":24.5},{"x":104,"y":27.5},{"x":104,"y":30.5},{"x":104,"y":33.5},{"x":104,"y":36.5},{"x":104,"y":39},
{"x":106,"y":12},{"x":106,"y":14},{"x":106,"y":17},{"x":106,"y":20},{"x":106,"y":23},{"x":106,"y":26},{"x":106,"y":29},{"x":106,"y":32},{"x":106,"y":35},{"x":106,"y":39},{"x":108,"y":12},{"x":108,"y":15.5},{"x":108,"y":18.5},{"x":108,"y":21.5},{"x":108,"y":24.5},{"x":108,"y":27.5},{"x":108,"y":30.5},{"x":108,"y":33.5},{"x":108,"y":36.5},{"x":108,"y":39.5},{"x":108,"y":41},{"x":110,"y":12},{"x":110,"y":14},{"x":110,"y":17},{"x":110,"y":20},{"x":110,"y":23},{"x":110,"y":26},{"x":110,"y":29},{"x":110,"y":32},{"x":110,"y":35},{"x":110,"y":38},{"x":110,"y":40},{"x":112,"y":12},{"x":112,"y":15.5},{"x":112,"y":18.5},{"x":112,"y":21.5},{"x":112,"y":24.5},{"x":112,"y":27.5},{"x":112,"y":30.5},{"x":112,"y":33.5},{"x":112,"y":36.5},{"x":112,"y":39},
{"x":114,"y":13},{"x":114,"y":16},{"x":114,"y":19},{"x":114,"y":22},{"x":114,"y":25},{"x":114,"y":28},{"x":114,"y":31},{"x":114,"y":34},{"x":114,"y":37},{"x":114,"y":40},{"x":114,"y":42},{"x":116,"y":13},{"x":116,"y":17.5},{"x":116,"y":20.5},{"x":116,"y":23.5},{"x":116,"y":26.5},{"x":116,"y":29.5},{"x":116,"y":32.5},{"x":116,"y":35.5},{"x":116,"y":38.5},{"x":116,"y":42},{"x":118,"y":13},{"x":118,"y":16},{"x":118,"y":19},{"x":118,"y":22},{"x":118,"y":25},{"x":118,"y":28},{"x":118,"y":31},{"x":118,"y":34},{"x":118,"y":37},{"x":118,"y":40},{"x":118,"y":43},{"x":120,"y":14},{"x":120,"y":17.5},{"x":120,"y":20.5},{"x":120,"y":23.5},{"x":120,"y":26.5},{"x":120,"y":29.5},{"x":120,"y":32.5},{"x":120,"y":35.5},{"x":120,"y":38.5},{"x":120,"y":41.5},{"x":120,"y":45},
{"x":122,"y":14},{"x":122,"y":16},{"x":122,"y":19},{"x":122,"y":22},{"x":122,"y":25},{"x":122,"y":28},{"x":122,"y":31},{"x":122,"y":34},{"x":122,"y":37},{"x":122,"y":40},{"x":122,"y":43},{"x":122,"y":46},{"x":124,"y":14},{"x":124,"y":17.5},{"x":124,"y":20.5},{"x":124,"y":23.5},{"x":124,"y":26.5},{"x":124,"y":29.5},{"x":124,"y":32.5},{"x":124,"y":35.5},{"x":124,"y":38.5},{"x":124,"y":41.5},{"x":124,"y":46},{"x":126,"y":14},{"x":126,"y":16},{"x":126,"y":19},{"x":126,"y":22},{"x":126,"y":25},{"x":126,"y":28},{"x":126,"y":31},{"x":126,"y":34},{"x":126,"y":37},{"x":126,"y":40},{"x":126,"y":43},{"x":126,"y":46},{"x":128,"y":15},{"x":128,"y":17.5},{"x":128,"y":20.5},{"x":128,"y":23.5},{"x":128,"y":26.5},{"x":128,"y":29.5},{"x":128,"y":32.5},{"x":128,"y":35.5},{"x":128,"y":38.5},{"x":128,"y":41.5},{"x":128,"y":44},
{"x":130,"y":15},{"x":130,"y":18},{"x":130,"y":21},{"x":130,"y":24},{"x":130,"y":27},{"x":130,"y":30},{"x":130,"y":33},{"x":130,"y":36},{"x":130,"y":39},{"x":130,"y":42},{"x":130,"y":45},{"x":132,"y":15},{"x":132,"y":19.5},{"x":132,"y":22.5},{"x":132,"y":25.5},{"x":132,"y":28.5},{"x":132,"y":31.5},{"x":132,"y":34.5},{"x":132,"y":37.5},{"x":132,"y":40.5},{"x":132,"y":43.5},{"x":132,"y":46},{"x":134,"y":15},{"x":134,"y":18},{"x":134,"y":21},{"x":134,"y":24},{"x":134,"y":27},{"x":134,"y":30},{"x":134,"y":33},{"x":134,"y":36},{"x":134,"y":39},{"x":134,"y":42},{"x":134,"y":47},{"x":136,"y":16},{"x":136,"y":19.5},{"x":136,"y":22.5},{"x":136,"y":25.5},{"x":136,"y":28.5},{"x":136,"y":31.5},{"x":136,"y":34.5},{"x":136,"y":37.5},{"x":136,"y":40.5},{"x":136,"y":47},
{"x":138,"y":17},{"x":138,"y":21},{"x":138,"y":24},{"x":138,"y":27},{"x":138,"y":30},{"x":138,"y":33},{"x":138,"y":36},{"x":138,"y":39},{"x":138,"y":42},{"x":138,"y":47},{"x":140,"y":19},{"x":140,"y":22.5},{"x":140,"y":25.5},{"x":140,"y":28.5},{"x":140,"y":31.5},{"x":140,"y":34.5},{"x":140,"y":37.5},{"x":140,"y":44},{"x":140,"y":47},{"x":142,"y":20},{"x":142,"y":24},{"x":142,"y":27},{"x":142,"y":30},{"x":142,"y":33},{"x":142,"y":36},{"x":142,"y":39},{"x":142,"y":45},{"x":144,"y":21},{"x":144,"y":25.5},{"x":144,"y":28.5},{"x":144,"y":31.5},{"x":144,"y":34.5},{"x":144,"y":37.5},{"x":144,"y":42},{"x":146,"y":21},{"x":146,"y":24},{"x":146,"y":27},{"x":146,"y":30},{"x":146,"y":33},{"x":146,"y":36},{"x":146,"y":42},{"x":148,"y":23},{"x":148,"y":25.5},{"x":148,"y":28.5},{"x":148,"y":31.5},{"x":148,"y":34.5},{"x":148,"y":37.5},{"x":148,"y":40},
{"x":150,"y":23},{"x":150,"y":27},{"x":150,"y":30},{"x":150,"y":33},{"x":150,"y":36},{"x":150,"y":38},{"x":152,"y":25},{"x":152,"y":28.5},{"x":152,"y":31.5},{"x":152,"y":34.5},{"x":152,"y":38},{"x":154,"y":25},{"x":154,"y":27},{"x":154,"y":30},{"x":154,"y":33},{"x":154,"y":36},{"x":154,"y":43},{"x":156,"y":25},{"x":156,"y":28.5},{"x":156,"y":31.5},{"x":156,"y":34.5},{"x":156,"y":37.5},{"x":156,"y":40.5},{"x":156,"y":44},{"x":158,"y":26},{"x":158,"y":30},{"x":158,"y":33},{"x":158,"y":36},{"x":158,"y":39},{"x":158,"y":43},{"x":160,"y":26},{"x":160,"y":28.5},{"x":160,"y":31.5},{"x":160,"y":34.5},{"x":160,"y":37.5},{"x":160,"y":40},{"x":162,"y":27},{"x":162,"y":30},{"x":162,"y":33},{"x":162,"y":36},{"x":162,"y":40},{"x":164,"y":28},{"x":164,"y":31.5},{"x":164,"y":34.5},{"x":164,"y":37.5},{"x":164,"y":40},{"x":166,"y":30},{"x":166,"y":33},{"x":166,"y":37},{"x":168,"y":30},{"x":168,"y":36},
{"x":80,"y":12},{"x":84,"y":11},{"x":84,"y":15},{"x":84,"y":26},{"x":85,"y":22},{"x":87,"y":39},{"x":88,"y":36},{"x":90,"y":30},{"x":90,"y":34},{"x":91,"y":33},{"x":92,"y":47},{"x":93,"y":31},{"x":94,"y":36},{"x":96,"y":38},{"x":97,"y":35},{"x":98,"y":57},{"x":98,"y":40},{"x":100,"y":55},{"x":103,"y":65},{"x":104,"y":47},{"x":107,"y":52},{"x":108,"y":56},{"x":110,"y":65},{"x":111,"y":56},{"x":111,"y":49},{"x":112,"y":50},{"x":113,"y":75},{"x":114,"y":49},{"x":116,"y":52},{"x":117,"y":59},{"x":118,"y":55},{"x":119,"y":55},{"x":122,"y":53},{"x":123,"y":63},{"x":127,"y":50},{"x":128,"y":55},{"x":129,"y":56},{"x":131,"y":53},{"x":132,"y":59},{"x":132,"y":58},{"x":134,"y":53},{"x":136,"y":57},{"x":137,"y":51},{"x":138,"y":53},{"x":140,"y":53},{"x":143,"y":54},{"x":145,"y":53},{"x":146,"y":53},{"x":142,"y":84},{"x":148,"y":48},{"x":149,"y":50},{"x":150,"y":49},{"x":152,"y":49},{"x":156,"y":57},{"x":156,"y":63},{"x":157,"y":63},{"x":156,"y":49},{"x":159,"y":47},{"x":160,"y":44},{"x":161,"y":73},{"x":161,"y":45},{"x":162,"y":55},{"x":163,"y":66},{"x":164,"y":50},{"x":165,"y":52},{"x":166,"y":53},{"x":167,"y":58},{"x":164,"y":44},{"x":166,"y":45},{"x":168,"y":43},{"x":170,"y":53},{"x":170,"y":44},{"x":172,"y":59},{"x":172,"y":55},{"x":172,"y":44},{"x":173,"y":46},{"x":175,"y":40},{"x":177,"y":40},{"x":177,"y":51},{"x":179,"y":42},{"x":180,"y":38},{"x":181,"y":44},{"x":183,"y":51},{"x":184,"y":43},{"x":184,"y":40},{"x":186,"y":60},{"x":186,"y":31},{"x":190,"y":31},{"x":195,"y":31},{"x":196,"y":43},{"x":196,"y":34},{"x":213,"y":34},{"x":220,"y":48},{"x":146,"y":13},{"x":151,"y":13},{"x":146,"y":18},{"x":148,"y":20},{"x":147,"y":19},{"x":152,"y":18},{"x":155,"y":18},{"x":157,"y":19},{"x":156,"y":21},{"x":158,"y":22},{"x":161,"y":19},{"x":162,"y":20},{"x":163,"y":22},{"x":160,"y":25},{"x":163,"y":25},{"x":165,"y":26},{"x":166,"y":23},{"x":167,"y":22},{"x":168,"y":17},{"x":170,"y":23},{"x":171,"y":28},{"x":172,"y":25},{"x":170,"y":27},{"x":168,"y":29},{"x":167,"y":32},{"x":169,"y":32},{"x":175,"y":23},{"x":176,"y":32},{"x":177,"y":36},{"x":179,"y":35},{"x":180,"y":29},{"x":180,"y":27},{"x":181,"y":36},{"x":172,"y":36},{"x":174,"y":36},{"x":95,"y":9},{"x":102,"y":8},{"x":107,"y":9},{"x":118,"y":10}],
"aviSbp":[{"x":86,"y":10},{"x":86,"y":13},{"x":86,"y":15},{"x":86,"y":17},{"x":88,"y":11},{"x":88,"y":14},{"x":88,"y":16},{"x":88,"y":18},{"x":90,"y":10},{"x":90,"y":13},{"x":90,"y":15},{"x":90,"y":18},{"x":90,"y":21},{"x":92,"y":9},{"x":92,"y":12},{"x":92,"y":14},{"x":92,"y":17},{"x":92,"y":19},{"x":92,"y":22},{"x":94,"y":10},{"x":94,"y":13},{"x":94,"y":15},{"x":94,"y":18},{"x":94,"y":20},{"x":94,"y":24},{"x":96,"y":9},{"x":96,"y":12},{"x":96,"y":14},{"x":96,"y":17},{"x":96,"y":19},{"x":96,"y":22},{"x":96,"y":25},
{"x":98,"y":10},{"x":98,"y":13},{"x":98,"y":15},{"x":98,"y":18},{"x":98,"y":20},{"x":98,"y":23},{"x":98,"y":25},{"x":98,"y":27},{"x":100,"y":8},{"x":100,"y":12},{"x":100,"y":14},{"x":100,"y":17},{"x":100,"y":19},{"x":100,"y":22},{"x":100,"y":24},{"x":100,"y":28},{"x":102,"y":8},{"x":102,"y":10},{"x":102,"y":13},{"x":102,"y":15},{"x":102,"y":18},{"x":102,"y":20},{"x":102,"y":23},{"x":102,"y":25},{"x":102,"y":29},{"x":104,"y":9},{"x":104,"y":12},{"x":104,"y":14},{"x":104,"y":17},{"x":104,"y":19},{"x":104,"y":22},{"x":104,"y":24},{"x":104,"y":27},{"x":106,"y":8},{"x":106,"y":10},{"x":106,"y":13},{"x":106,"y":15},{"x":106,"y":18},{"x":106,"y":20},{"x":106,"y":23},{"x":106,"y":25},{"x":106,"y":29},{"x":108,"y":9},{"x":108,"y":12},{"x":108,"y":14},{"x":108,"y":17},{"x":108,"y":19},{"x":108,"y":22},{"x":108,"y":24},{"x":108,"y":27},{"x":108,"y":29},
{"x":110,"y":8},{"x":110,"y":10},{"x":110,"y":13},{"x":110,"y":15},{"x":110,"y":18},{"x":110,"y":20},{"x":110,"y":23},{"x":110,"y":25},{"x":110,"y":28},{"x":110,"y":31},{"x":112,"y":9},{"x":112,"y":12},{"x":112,"y":14},{"x":112,"y":17},{"x":112,"y":19},{"x":112,"y":22},{"x":112,"y":24},{"x":112,"y":27},{"x":112,"y":29},{"x":112,"y":32},{"x":114,"y":8},{"x":114,"y":10},{"x":114,"y":13},{"x":114,"y":15},{"x":114,"y":18},{"x":114,"y":20},{"x":114,"y":23},{"x":114,"y":25},{"x":114,"y":28},{"x":114,"y":31},{"x":116,"y":9},{"x":116,"y":12},{"x":116,"y":14},{"x":116,"y":17},{"x":116,"y":19},{"x":116,"y":22},{"x":116,"y":24},{"x":116,"y":27},{"x":116,"y":29},{"x":116,"y":32},{"x":118,"y":8},{"x":118,"y":10},{"x":118,"y":13},{"x":118,"y":15},{"x":118,"y":18},{"x":118,"y":20},{"x":118,"y":23},{"x":118,"y":25},{"x":118,"y":28},{"x":118,"y":30},{"x":118,"y":34},
{"x":120,"y":9},{"x":120,"y":12},{"x":120,"y":14},{"x":120,"y":17},{"x":120,"y":19},{"x":120,"y":22},{"x":120,"y":24},{"x":120,"y":27},{"x":120,"y":29},{"x":120,"y":32},{"x":120,"y":36},{"x":122,"y":8},{"x":122,"y":10},{"x":122,"y":13},{"x":122,"y":15},{"x":122,"y":18},{"x":122,"y":20},{"x":122,"y":23},{"x":122,"y":25},{"x":122,"y":28},{"x":122,"y":30},{"x":122,"y":34},{"x":124,"y":9},{"x":124,"y":12},{"x":124,"y":14},{"x":124,"y":17},{"x":124,"y":19},{"x":124,"y":22},{"x":124,"y":24},{"x":124,"y":27},{"x":124,"y":29},{"x":124,"y":33},{"x":126,"y":8},{"x":126,"y":10},{"x":126,"y":13},{"x":126,"y":15},{"x":126,"y":18},{"x":126,"y":20},{"x":126,"y":23},{"x":126,"y":25},{"x":126,"y":28},{"x":126,"y":30},{"x":126,"y":34},{"x":128,"y":9},{"x":128,"y":12},{"x":128,"y":14},{"x":128,"y":17},{"x":128,"y":19},{"x":128,"y":22},{"x":128,"y":24},{"x":128,"y":27},{"x":128,"y":29},{"x":128,"y":32},{"x":128,"y":35},
{"x":130,"y":8},{"x":130,"y":10},{"x":130,"y":13},{"x":130,"y":15},{"x":130,"y":18},{"x":130,"y":20},{"x":130,"y":23},{"x":130,"y":25},{"x":130,"y":28},{"x":130,"y":30},{"x":130,"y":33},{"x":130,"y":35},{"x":132,"y":9},{"x":132,"y":12},{"x":132,"y":14},{"x":132,"y":17},{"x":132,"y":19},{"x":132,"y":22},{"x":132,"y":24},{"x":132,"y":27},{"x":132,"y":29},{"x":132,"y":32},{"x":132,"y":34},{"x":134,"y":9},{"x":134,"y":11},{"x":134,"y":13},{"x":134,"y":15},{"x":134,"y":18},{"x":134,"y":20},{"x":134,"y":23},{"x":134,"y":25},{"x":134,"y":28},{"x":134,"y":30},{"x":134,"y":33},{"x":134,"y":36},{"x":136,"y":8},{"x":136,"y":12},{"x":136,"y":14},{"x":136,"y":17},{"x":136,"y":19},{"x":136,"y":22},{"x":136,"y":24},{"x":136,"y":27},{"x":136,"y":29},{"x":136,"y":32},{"x":136,"y":36},{"x":138,"y":8},{"x":138,"y":10},{"x":138,"y":13},{"x":138,"y":15},{"x":138,"y":18},{"x":138,"y":20},{"x":138,"y":23},{"x":138,"y":25},{"x":138,"y":28},{"x":138,"y":30},{"x":138,"y":35},
{"x":140,"y":9},{"x":140,"y":12},{"x":140,"y":14},{"x":140,"y":17},{"x":140,"y":19},{"x":140,"y":22},{"x":140,"y":24},{"x":140,"y":27},{"x":140,"y":29},{"x":140,"y":32},{"x":140,"y":36},{"x":142,"y":9},{"x":142,"y":11},{"x":142,"y":13},{"x":142,"y":15},{"x":142,"y":18},{"x":142,"y":20},{"x":142,"y":23},{"x":142,"y":25},{"x":142,"y":28},{"x":142,"y":31},{"x":142,"y":34},{"x":144,"y":9},{"x":144,"y":12},{"x":144,"y":14},{"x":144,"y":17},{"x":144,"y":19},{"x":144,"y":22},{"x":144,"y":24},{"x":144,"y":27},{"x":144,"y":29},{"x":144,"y":33},{"x":146,"y":10},{"x":146,"y":13},{"x":146,"y":15},{"x":146,"y":18},{"x":146,"y":20},{"x":146,"y":23},{"x":146,"y":25},{"x":146,"y":28},{"x":146,"y":30},{"x":146,"y":33},{"x":148,"y":10},{"x":148,"y":12},{"x":148,"y":14},{"x":148,"y":17},{"x":148,"y":19},{"x":148,"y":22},{"x":148,"y":24},{"x":148,"y":27},{"x":148,"y":29},{"x":148,"y":32},
{"x":150,"y":10},{"x":150,"y":13},{"x":150,"y":15},{"x":150,"y":18},{"x":150,"y":20},{"x":150,"y":23},{"x":150,"y":25},{"x":150,"y":28},{"x":150,"y":31},{"x":152,"y":11},{"x":152,"y":14},{"x":152,"y":17},{"x":152,"y":19},{"x":152,"y":22},{"x":152,"y":24},{"x":152,"y":27},{"x":152,"y":29},{"x":154,"y":11},{"x":154,"y":13},{"x":154,"y":15},{"x":154,"y":18},{"x":154,"y":20},{"x":154,"y":23},{"x":154,"y":25},{"x":154,"y":29},{"x":156,"y":11},{"x":156,"y":14},{"x":156,"y":17},{"x":156,"y":19},{"x":156,"y":22},{"x":156,"y":24},{"x":156,"y":28},{"x":158,"y":12},{"x":158,"y":15},{"x":158,"y":18},{"x":158,"y":20},{"x":158,"y":23},{"x":158,"y":25},{"x":158,"y":27},{"x":160,"y":12},{"x":160,"y":14},{"x":160,"y":17},{"x":160,"y":19},{"x":160,"y":22},{"x":160,"y":24},{"x":160,"y":26},{"x":162,"y":13},{"x":162,"y":15},{"x":162,"y":18},{"x":162,"y":20},{"x":162,"y":24},{"x":164,"y":14},{"x":164,"y":17},{"x":164,"y":19},{"x":164,"y":22},{"x":166,"y":14},{"x":166,"y":16},{"x":166,"y":20},
{"x":80,"y":12},{"x":85,"y":9},{"x":84,"y":13},{"x":90,"y":31},{"x":92,"y":23},{"x":93,"y":26},{"x":93,"y":49},{"x":95,"y":26},{"x":96,"y":26},{"x":97,"y":31},{"x":98,"y":37},{"x":99,"y":28},{"x":100,"y":76},{"x":100,"y":33},{"x":100,"y":31},{"x":103,"y":30},{"x":103,"y":37},{"x":105,"y":37},{"x":106,"y":35},{"x":108,"y":43},{"x":110,"y":33},{"x":111,"y":38},{"x":113,"y":39},{"x":114,"y":37},{"x":116,"y":44},{"x":117,"y":33},{"x":118,"y":36},{"x":120,"y":40},{"x":120,"y":38},{"x":123,"y":37},{"x":125,"y":36},{"x":128,"y":47},{"x":128,"y":40},{"x":128,"y":38},{"x":130,"y":42},{"x":131,"y":38},{"x":135,"y":39},{"x":136,"y":43},{"x":137,"y":43},{"x":137,"y":40},{"x":141,"y":45},{"x":141,"y":40},{"x":143,"y":41},{"x":144,"y":38},{"x":147,"y":45},{"x":147,"y":36},{"x":150,"y":40},{"x":150,"y":38},{"x":152,"y":38},{"x":154,"y":43},{"x":156,"y":41},{"x":156,"y":38},{"x":157,"y":35},{"x":159,"y":39},{"x":160,"y":37},{"x":161,"y":38},{"x":161,"y":34},{"x":163,"y":42},{"x":163,"y":40},{"x":164,"y":34},{"x":165,"y":39},{"x":165,"y":32},{"x":168,"y":33},{"x":169,"y":36},{"x":170,"y":37},{"x":171,"y":38},{"x":171,"y":49},{"x":171,"y":33},{"x":172,"y":30},{"x":173,"y":42},{"x":168,"y":30},{"x":170,"y":31},{"x":168,"y":28},{"x":171,"y":27},{"x":173,"y":27},{"x":172,"y":21},{"x":175,"y":23},{"x":173,"y":15},{"x":175,"y":14},{"x":177,"y":14},{"x":177,"y":18},{"x":177,"y":22},{"x":176,"y":27},{"x":178,"y":26},{"x":180,"y":28},{"x":181,"y":30},{"x":180,"y":35},{"x":180,"y":25},{"x":180,"y":20},{"x":181,"y":41},{"x":183,"y":21},{"x":184,"y":18},{"x":184,"y":13},{"x":186,"y":39},{"x":186,"y":16},{"x":190,"y":18},{"x":195,"y":27},{"x":196,"y":45},{"x":196,"y":20},{"x":213,"y":15},{"x":220,"y":35},{"x":125,"y":5},{"x":161,"y":10},{"x":166,"y":12},{"x":168,"y":11},{"x":170,"y":13},{"x":165,"y":14},{"x":162,"y":14},{"x":155,"y":10},{"x":157,"y":11},{"x":150,"y":10},{"x":165,"y":18},{"x":168,"y":20},{"x":170,"y":18},{"x":166,"y":22},{"x":169,"y":23},{"x":165,"y":25},{"x":162,"y":26},{"x":160,"y":28},{"x":165,"y":28}]
},
"concat":[
{"width":363,"height":233,"layer":[
{"data":{"name":"apiAge"},"mark":{"type":"circle","size":34,"opacity":1,"color":"#000"},"encoding":{"x":{"field":"x","type":"quantitative","title":"Age (years)","scale":{"domain":[18.96,81.9],"nice":false,"zero":false},"axis":{"grid":false,"values":[20,30,40,50,60,70,80],"domainColor":"#777","domainWidth":2,"tickColor":"#555"}},"y":{"field":"y","type":"quantitative","title":"API","scale":{"domain":[-3.18,102.7],"nice":false,"zero":false},"axis":{"values":[0,20,40,60,80,100],"gridColor":{"condition":{"test":"datum.value==100","value":"transparent"},"value":"#e6f0f0"},"gridWidth":1.5,"labelAngle":270,"labelAlign":"center","labelBaseline":"bottom","titleAngle":0,"titleAlign":"left","titleBaseline":"alphabetic","titleX":-19,"titleY":-6,"domainColor":"#777","domainWidth":2,"tickColor":"#555"}}}},
{"data":{"name":"apiAgeFit"},"mark":{"type":"line","color":"#8f3a40","strokeWidth":1.3},"encoding":{"x":{"field":"x","type":"quantitative"},"y":{"field":"y","type":"quantitative"}}}]},
{"width":363,"height":233,"layer":[
{"data":{"name":"aviAge"},"mark":{"type":"circle","size":34,"opacity":1,"color":"#000"},"encoding":{"x":{"field":"x","type":"quantitative","title":"Age (years)","scale":{"domain":[18.96,81.9],"nice":false,"zero":false},"axis":{"grid":false,"values":[20,30,40,50,60,70,80],"domainColor":"#777","domainWidth":2,"tickColor":"#555"}},"y":{"field":"y","type":"quantitative","title":"AVI","scale":{"domain":[-3.18,102.7],"nice":false,"zero":false},"axis":{"values":[0,20,40,60,80,100],"gridColor":{"condition":{"test":"datum.value==100","value":"transparent"},"value":"#e6f0f0"},"gridWidth":1.5,"labelAngle":270,"labelAlign":"center","labelBaseline":"bottom","titleAngle":0,"titleAlign":"left","titleBaseline":"alphabetic","titleX":-19,"titleY":-6}}}},
{"data":{"name":"aviAgeFit"},"mark":{"type":"line","color":"#8f3a40","strokeWidth":1.3},"encoding":{"x":{"field":"x","type":"quantitative"},"y":{"field":"y","type":"quantitative"}}}]},
{"width":363,"height":233,"layer":[
{"data":{"name":"apiBmi"},"mark":{"type":"circle","size":34,"opacity":1,"color":"#000"},"encoding":{"x":{"field":"x","type":"quantitative","title":"BMI","scale":{"domain":[9.24,51.9],"nice":false,"zero":false},"axis":{"grid":false,"values":[10,20,30,40,50]}},"y":{"field":"y","type":"quantitative","title":"API","scale":{"domain":[-3.18,102.7],"nice":false,"zero":false},"axis":{"values":[0,20,40,60,80,100],"gridColor":{"condition":{"test":"datum.value==100","value":"transparent"},"value":"#e6f0f0"},"gridWidth":1.5,"labelAngle":270,"labelAlign":"center","labelBaseline":"bottom","titleAngle":0,"titleAlign":"left","titleBaseline":"alphabetic","titleX":-19,"titleY":-6,"domainColor":"#777","domainWidth":2,"tickColor":"#555"}}}},
{"data":{"name":"apiBmiFit"},"mark":{"type":"line","color":"#8f3a40","strokeWidth":1.3},"encoding":{"x":{"field":"x","type":"quantitative"},"y":{"field":"y","type":"quantitative"}}}]},
{"width":363,"height":233,"layer":[
{"data":{"name":"aviBmi"},"mark":{"type":"circle","size":34,"opacity":1,"color":"#000"},"encoding":{"x":{"field":"x","type":"quantitative","title":"BMI","scale":{"domain":[9.24,51.9],"nice":false,"zero":false},"axis":{"grid":false,"values":[10,20,30,40,50]}},"y":{"field":"y","type":"quantitative","title":"AVI","scale":{"domain":[-3.18,102.7],"nice":false,"zero":false},"axis":{"values":[0,20,40,60,80,100],"gridColor":{"condition":{"test":"datum.value==100","value":"transparent"},"value":"#e6f0f0"},"gridWidth":1.5,"labelAngle":270,"labelAlign":"center","labelBaseline":"bottom","titleAngle":0,"titleAlign":"left","titleBaseline":"alphabetic","titleX":-19,"titleY":-6}}}},
{"data":{"name":"aviBmiFit"},"mark":{"type":"line","color":"#8f3a40","strokeWidth":1.3},"encoding":{"x":{"field":"x","type":"quantitative"},"y":{"field":"y","type":"quantitative"}}}]},
{"width":363,"height":233,"layer":[
{"data":{"name":"apiSbp"},"mark":{"type":"circle","size":34,"opacity":1,"color":"#000"},"encoding":{"x":{"field":"x","type":"quantitative","title":"sBP","scale":{"domain":[77.6,222.4],"nice":false,"zero":false},"axis":{"grid":false,"values":[80,100,120,140,160,180,200,220]}},"y":{"field":"y","type":"quantitative","title":"API","scale":{"domain":[-3.18,102.7],"nice":false,"zero":false},"axis":{"values":[0,20,40,60,80,100],"gridColor":{"condition":{"test":"datum.value==100","value":"transparent"},"value":"#e6f0f0"},"gridWidth":1.5,"labelAngle":270,"labelAlign":"center","labelBaseline":"bottom","titleAngle":0,"titleAlign":"left","titleBaseline":"alphabetic","titleX":-19,"titleY":-6,"domainColor":"#777","domainWidth":2,"tickColor":"#555"}}}},
{"data":{"name":"apiSbpFit"},"mark":{"type":"line","color":"#8f3a40","strokeWidth":1.3},"encoding":{"x":{"field":"x","type":"quantitative"},"y":{"field":"y","type":"quantitative"}}}]},
{"width":363,"height":233,"layer":[
{"data":{"name":"aviSbp"},"mark":{"type":"circle","size":34,"opacity":1,"color":"#000"},"encoding":{"x":{"field":"x","type":"quantitative","title":"sBP","scale":{"domain":[77.6,222.4],"nice":false,"zero":false},"axis":{"grid":false,"values":[80,100,120,140,160,180,200,220]}},"y":{"field":"y","type":"quantitative","title":"AVI","scale":{"domain":[-2.5,82.2],"nice":false,"zero":false},"axis":{"values":[0,20,40,60,80],"gridColor":"#e6f0f0","gridWidth":1.5,"labelAngle":270,"labelAlign":"center","labelBaseline":"bottom","titleAngle":0,"titleAlign":"left","titleBaseline":"alphabetic","titleX":-19,"titleY":-6}}}},
{"data":{"name":"aviSbpFit"},"mark":{"type":"line","color":"#8f3a40","strokeWidth":1.3},"encoding":{"x":{"field":"x","type":"quantitative"},"y":{"field":"y","type":"quantitative"}}}]}
]}
